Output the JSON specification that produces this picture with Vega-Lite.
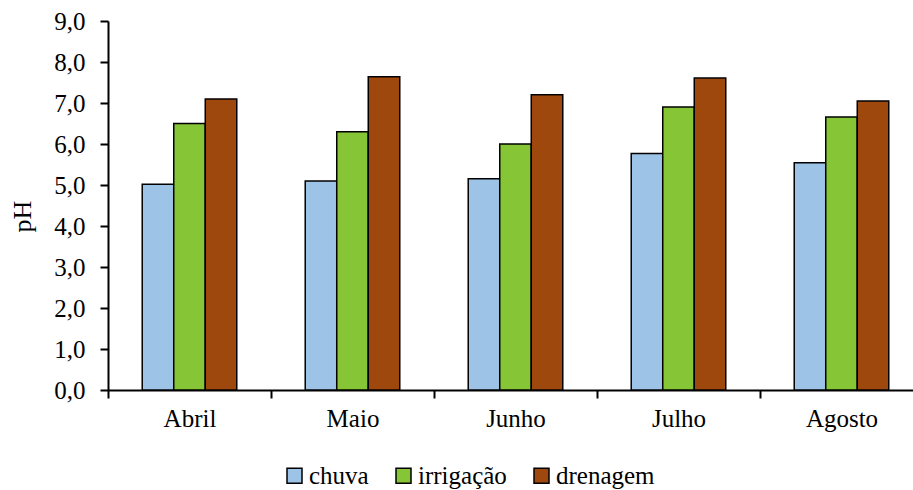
{
  "$schema": "https://vega.github.io/schema/vega-lite/v6.json",
  "width": 805,
  "height": 369,
  "autosize": {"type": "none"},
  "padding": {"left": 108, "top": 21, "right": 0, "bottom": 100},
  "background": "white",
  "config": {
    "view": {"stroke": null},
    "font": "Liberation Serif",
    "axis": {"grid": false, "domainColor": "black", "domainWidth": 2, "tickColor": "black", "tickWidth": 2, "labelColor": "black", "titleColor": "black", "labelFont": "Liberation Serif", "titleFont": "Liberation Serif", "labelFontSize": 25},
    "legend": {"labelFont": "Liberation Serif", "labelFontSize": 25, "labelColor": "black"}
  },
  "data": {
    "values": [
      {"mes": "Abril", "serie": "chuva", "ph": 5.02},
      {"mes": "Abril", "serie": "irrigação", "ph": 6.5},
      {"mes": "Abril", "serie": "drenagem", "ph": 7.1},
      {"mes": "Maio", "serie": "chuva", "ph": 5.1},
      {"mes": "Maio", "serie": "irrigação", "ph": 6.3},
      {"mes": "Maio", "serie": "drenagem", "ph": 7.64},
      {"mes": "Junho", "serie": "chuva", "ph": 5.15},
      {"mes": "Junho", "serie": "irrigação", "ph": 6.0},
      {"mes": "Junho", "serie": "drenagem", "ph": 7.2},
      {"mes": "Julho", "serie": "chuva", "ph": 5.77},
      {"mes": "Julho", "serie": "irrigação", "ph": 6.9},
      {"mes": "Julho", "serie": "drenagem", "ph": 7.61},
      {"mes": "Agosto", "serie": "chuva", "ph": 5.54},
      {"mes": "Agosto", "serie": "irrigação", "ph": 6.66},
      {"mes": "Agosto", "serie": "drenagem", "ph": 7.05}
    ]
  },
  "mark": {"type": "bar", "stroke": "black", "strokeWidth": 1.5},
  "encoding": {
    "x": {
      "field": "mes", "type": "nominal", "sort": ["Abril", "Maio", "Junho", "Julho", "Agosto"],
      "scale": {"range": [0, 815], "paddingInner": 0.42, "paddingOuter": 0.21},
      "axis": {"title": null, "labelAngle": 0, "ticks": true, "tickSize": 8, "tickWidth": 2, "tickColor": "black", "labelPadding": 8, "tickBand": "center", "tickOffset": -81.5, "labelOffset": 81.5}
    },
    "xOffset": {"field": "serie", "type": "nominal", "sort": ["chuva", "irrigação", "drenagem"], "scale": {"paddingInner": 0, "paddingOuter": 0}},
    "y": {
      "field": "ph", "type": "quantitative",
      "scale": {"domain": [0, 9], "nice": false},
      "axis": {"title": "pH", "titleFontSize": 26, "titleFontWeight": "normal", "titleAngle": -90, "titleBaseline": "alphabetic", "titleX": -78, "titleY": 195, "values": [0,1,2,3,4,5,6,7,8,9], "labelExpr": "replace(format(datum.value, '.1f'), '.', ',')", "tickSize": 8, "labelPadding": 15}
    },
    "color": {
      "field": "serie", "type": "nominal", "sort": ["chuva", "irrigação", "drenagem"],
      "scale": {"domain": ["chuva", "irrigação", "drenagem"], "range": ["#9DC3E6", "#85C536", "#9E480E"]},
      "legend": {"title": null, "orient": "none", "direction": "horizontal", "legendX": 174, "legendY": 442, "symbolType": "square", "symbolSize": 225, "symbolStrokeColor": "black", "symbolStrokeWidth": 1.5, "symbolOpacity": 1, "labelFont": "Liberation Serif", "labelFontSize": 25, "labelColor": "black", "labelOffset": 2, "columnPadding": 22}
    }
  }
}
